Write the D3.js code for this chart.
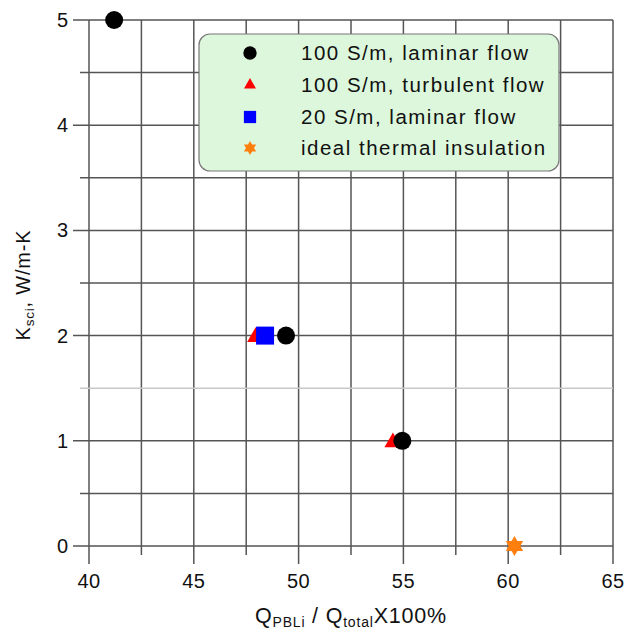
<!DOCTYPE html>
<html>
<head>
<meta charset="utf-8">
<script src="https://cdn.jsdelivr.net/npm/d3@7"></script>
<style>
  body { margin: 0; background: #fff; }
  svg { display: block; font-family: "Liberation Sans", Arial, sans-serif; }
</style>
</head>
<body>
<div id="chart"></div>
<script>
// data
const xTicks = [40, 45, 50, 55, 60, 65];
const yTicks = [0, 1, 2, 3, 4, 5];
const xMinor = [42.5, 47.5, 52.5, 57.5, 62.5];
const yMinor = [0.5, 1.5, 2.5, 3.5, 4.5];

const lam100X = [41.2, 49.4, 54.95];
const lam100Y = [5, 2, 1];
const turb100X = [47.95, 54.5];
const turb100Y = [2, 1];
const lam20X = [48.4];
const lam20Y = [2];
const idealX = [60.3];
const idealY = [0];

const legendLabels = ['100 S/m, laminar flow', '100 S/m, turbulent flow', '20 S/m, laminar flow', 'ideal thermal insulation'];

const W = 627, H = 632;
const svg = d3.select('#chart').append('svg')
  .attr('width', W)
  .attr('height', H);

const x = d3.scaleLinear().domain([40, 65]).range([89, 613]);
const y = d3.scaleLinear().domain([0, 5]).range([546, 20]);

const gridColor = '#555';

// vertical grid lines (major ones run down as ticks)
svg.selectAll('.vmaj').data(xTicks).enter().append('line')
  .attr('x1', d => x(d)).attr('x2', d => x(d))
  .attr('y1', y(5)).attr('y2', y(0) + 18)
  .attr('stroke', gridColor).attr('stroke-width', 1.5);
svg.selectAll('.vmin').data(xMinor).enter().append('line')
  .attr('x1', d => x(d)).attr('x2', d => x(d))
  .attr('y1', y(5)).attr('y2', y(0) + 9)
  .attr('stroke', gridColor).attr('stroke-width', 1.5);

// horizontal grid lines
svg.selectAll('.hmaj').data(yTicks).enter().append('line')
  .attr('x1', x(40) - 16).attr('x2', x(65))
  .attr('y1', d => y(d)).attr('y2', d => y(d))
  .attr('stroke', gridColor).attr('stroke-width', 1.5);
svg.selectAll('.hmin').data(yMinor).enter().append('line')
  .attr('x1', x(40) - 9).attr('x2', x(65))
  .attr('y1', d => y(d)).attr('y2', d => y(d))
  .attr('stroke', d => d === 1.5 ? '#c8c8c8' : gridColor)
  .attr('stroke-width', 1.5);

// tick labels
svg.selectAll('.xl').data(xTicks).enter().append('text')
  .attr('x', d => x(d)).attr('y', 588)
  .attr('text-anchor', 'middle')
  .attr('font-size', 20)
  .attr('letter-spacing', 0.5)
  .attr('fill', '#111')
  .text(d => d);
svg.selectAll('.yl').data(yTicks).enter().append('text')
  .attr('x', 68).attr('y', d => y(d) + 7)
  .attr('text-anchor', 'end')
  .attr('font-size', 20)
  .attr('fill', '#111')
  .text(d => d);

// axis titles
const xt = svg.append('text')
  .attr('x', 351).attr('y', 623)
  .attr('text-anchor', 'middle')
  .attr('font-size', 21.5)
  .attr('letter-spacing', 0.8)
  .attr('fill', '#111');
xt.append('tspan').text('Q');
xt.append('tspan').attr('font-size', 14).attr('dy', 4).text('PBLi');
xt.append('tspan').attr('dy', -4).text(' / Q');
xt.append('tspan').attr('font-size', 14).attr('dy', 4).text('total');
xt.append('tspan').attr('dy', -4).text('X100%');

const yt = svg.append('text')
  .attr('transform', 'translate(30,285) rotate(-90)')
  .attr('text-anchor', 'middle')
  .attr('font-size', 20)
  .attr('letter-spacing', 0.8)
  .attr('fill', '#111');
yt.append('tspan').text('K');
yt.append('tspan').attr('font-size', 13.5).attr('dy', 4).text('sci');
yt.append('tspan').attr('dy', -4).text(', W/m-K');

// legend box
svg.append('rect')
  .attr('x', 199).attr('y', 34)
  .attr('width', 360).attr('height', 137)
  .attr('rx', 11)
  .attr('fill', '#ddf7dc')
  .attr('stroke', '#777').attr('stroke-width', 1.2);

function hexStar(r) {
  const pts = [];
  for (let i = 0; i < 12; i++) {
    const a = -Math.PI / 2 + i * Math.PI / 6;
    const rr = i % 2 === 0 ? r : r * 0.58;
    pts.push([rr * Math.cos(a), rr * Math.sin(a)]);
  }
  return 'M' + pts.map(p => p.join(',')).join('L') + 'Z';
}

const legendY = [53, 85, 117, 148];
const legendSym = [
  d3.symbol(d3.symbolCircle, 140)(),
  d3.symbol(d3.symbolTriangle, 62)(),
  d3.symbol(d3.symbolSquare, 150)(),
  hexStar(7)
];
const legendColor = ['#000', '#ff0000', '#0000ff', '#ff7f0e'];

legendLabels.forEach((lab, i) => {
  svg.append('path')
    .attr('d', legendSym[i])
    .attr('transform', `translate(250,${legendY[i]})`)
    .attr('fill', legendColor[i]);
  svg.append('text')
    .attr('x', 301).attr('y', legendY[i] + 7)
    .attr('font-size', 20.5)
    .attr('letter-spacing', 1.5)
    .attr('fill', '#111')
    .text(lab);
});

// markers
svg.selectAll('.tri').data(turb100X).enter().append('path')
  .attr('d', d3.symbol(d3.symbolTriangle, 125)())
  .attr('transform', (d, i) => `translate(${x(d)},${y(turb100Y[i]) + 1.5})`)
  .attr('fill', '#ff0000');

svg.selectAll('.sq').data(lam20X).enter().append('path')
  .attr('d', d3.symbol(d3.symbolSquare, 324)())
  .attr('transform', (d, i) => `translate(${x(d)},${y(lam20Y[i])})`)
  .attr('fill', '#0000ff');

svg.selectAll('.circ').data(lam100X).enter().append('circle')
  .attr('cx', d => x(d))
  .attr('cy', (d, i) => y(lam100Y[i]))
  .attr('r', 9)
  .attr('fill', '#000');

svg.selectAll('.star').data(idealX).enter().append('path')
  .attr('d', hexStar(10))
  .attr('transform', (d, i) => `translate(${x(d)},${y(idealY[i])})`)
  .attr('fill', '#ff7f0e');
</script>
</body>
</html>
